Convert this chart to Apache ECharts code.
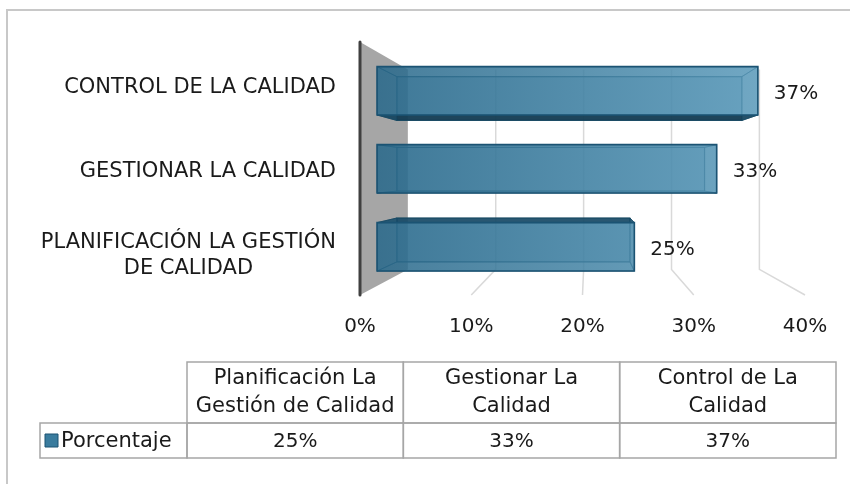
<!DOCTYPE html>
<html>
<head>
<meta charset="utf-8">
<script src="https://cdn.jsdelivr.net/npm/echarts@6/dist/echarts.min.js"></script>
<style>
  html, body { margin: 0; padding: 0; background: #ffffff; }
  #chart { width: 850px; height: 484px; }
</style>
</head>
<body>
<div id="chart"></div>
<script>
// Category axis, bottom to top
const categories = ['PLANIFICACIÓN LA GESTIÓN\nDE CALIDAD', 'GESTIONAR LA CALIDAD', 'CONTROL DE LA CALIDAD'];
// Data table column headers, left to right
const tableHeaders = ['Planificación La\nGestión de Calidad', 'Gestionar La\nCalidad', 'Control de La\nCalidad'];
const seriesName = 'Porcentaje';
const percentages = [25, 33, 37];
const axisTicks = [0, 10, 20, 30, 40];

const FONT = 'DejaVu Sans';
const FONT_SIZE = 20;
const FONT_SIZE_LARGE = 21;
const TEXT = '#1a1a1a';

// Perspective: every depth is the fraction of the way from the front plane to the vanishing point
const VANISH = [0.512, 0.518];       // vanishing point, as a fraction of the plot area
const DEPTH_BACK_WALL = 0.21;
const DEPTH_BAR_FRONT = 0.075;
const DEPTH_BAR_BACK = 0.162;
const BAR_THICKNESS = 0.62;          // share of the category band

function vanishingPoint(cs) {
  return [cs.x + VANISH[0] * cs.width, cs.y + VANISH[1] * cs.height];
}
function toward(p, v, d) {
  return [p[0] + d * (v[0] - p[0]), p[1] + d * (v[1] - p[1])];
}

// Side wall, back-wall grid lines and floor lines
function renderWalls(params, api) {
  const cs = params.coordSys;
  const v = vanishingPoint(cs);
  const top = cs.y, bottom = cs.y + cs.height;
  const x0 = api.coord([0, 0])[0];
  const children = [];
  const wallFrontTop = [x0, top], wallFrontBottom = [x0, bottom];
  children.push({
    type: 'polygon',
    shape: { points: [wallFrontTop, toward(wallFrontTop, v, DEPTH_BACK_WALL), toward(wallFrontBottom, v, DEPTH_BACK_WALL), wallFrontBottom] },
    style: { fill: '#a6a6a6' }
  });
  axisTicks.forEach(function (t) {
    if (t === axisTicks[0]) return;
    const x = api.coord([t, 0])[0];
    children.push({
      type: 'polyline',
      shape: { points: [toward([x, top], v, DEPTH_BACK_WALL), toward([x, bottom], v, DEPTH_BACK_WALL), [x, bottom]] },
      style: { stroke: '#d9d9d9', lineWidth: 1.5, fill: null }
    });
  });
  children.push({
    type: 'line',
    shape: { x1: x0, y1: top, x2: x0, y2: bottom },
    style: { stroke: '#404040', lineWidth: 3, lineCap: 'round' }
  });
  return { type: 'group', children: children };
}

// One 3D box per category
function renderBar(params, api) {
  const cs = params.coordSys;
  const v = vanishingPoint(cs);
  const cat = api.value(0), val = api.value(1);
  const end = api.coord([val, cat]);
  const start = api.coord([0, cat]);
  const h = api.size([0, 1])[1] * BAR_THICKNESS;
  const rect = [
    [start[0], end[1] - h / 2], [end[0], end[1] - h / 2],
    [end[0], end[1] + h / 2], [start[0], end[1] + h / 2]
  ];
  const F = rect.map(function (p) { return toward(p, v, DEPTH_BAR_FRONT); });
  const B = rect.map(function (p) { return toward(p, v, DEPTH_BAR_BACK); });
  const gradEnd = toward([api.coord([axisTicks[axisTicks.length - 1], cat])[0], 0], v, DEPTH_BAR_FRONT)[0];
  const edge = '#1b5373';
  // a top or bottom face shows outside the front face only when it turns toward the eye
  const hidden = 'rgba(30,90,122,0.3)';
  const topFill = B[0][1] < F[0][1] ? 'rgba(22,72,100,0.85)' : hidden;
  const bottomFill = B[3][1] > F[3][1] ? 'rgba(18,58,80,0.9)' : hidden;
  const children = [
    { type: 'polygon', shape: { points: B }, style: { fill: 'rgba(35,100,135,0.5)', stroke: 'rgba(22,72,98,0.7)', lineWidth: 1.2 } },
    { type: 'polygon', shape: { points: [F[0], F[1], B[1], B[0]] }, style: { fill: topFill, stroke: 'rgba(22,72,98,0.75)', lineWidth: 1 } },
    { type: 'polygon', shape: { points: [F[3], F[2], B[2], B[3]] }, style: { fill: bottomFill, stroke: 'rgba(22,72,98,0.75)', lineWidth: 1 } },
    { type: 'polygon', shape: { points: [F[0], B[0], B[3], F[3]] }, style: { fill: 'rgba(30,90,122,0.35)', stroke: 'rgba(22,72,98,0.6)', lineWidth: 1 } },
    { type: 'polygon', shape: { points: [F[1], B[1], B[2], F[2]] }, style: { fill: 'rgba(30,90,122,0.3)', stroke: 'rgba(22,72,98,0.6)', lineWidth: 1 } },
    {
      type: 'polygon', shape: { points: F },
      style: {
        fill: {
          type: 'linear', x: F[0][0], y: 0, x2: gradEnd, y2: 0, global: true,
          colorStops: [{ offset: 0, color: 'rgba(42,106,140,0.8)' }, { offset: 1, color: 'rgba(98,162,194,0.8)' }]
        },
        stroke: edge, lineWidth: 1.6
      }
    },
    {
      type: 'text',
      x: F[1][0] + 16, y: (F[1][1] + F[2][1]) / 2 + 3,
      style: { text: val + '%', fill: TEXT, fontFamily: FONT, fontSize: FONT_SIZE, align: 'left', verticalAlign: 'middle' }
    }
  ];
  return { type: 'group', children: children };
}

// Data table under the plot
const TABLE = { left: 40, keyRight: 187, right: 836, top: 362, mid: 423, bottom: 458 };
function tableGraphics() {
  const els = [];
  const colW = (TABLE.right - TABLE.keyRight) / tableHeaders.length;
  const border = { fill: null, stroke: '#a6a6a6', lineWidth: 1.5 };
  tableHeaders.forEach(function (hdr, i) {
    const x = TABLE.keyRight + i * colW;
    els.push({ type: 'rect', shape: { x: x, y: TABLE.top, width: colW, height: TABLE.mid - TABLE.top }, style: border, silent: true });
    els.push({ type: 'rect', shape: { x: x, y: TABLE.mid, width: colW, height: TABLE.bottom - TABLE.mid }, style: border, silent: true });
    els.push({
      type: 'text', x: x + colW / 2, y: (TABLE.top + TABLE.mid) / 2, silent: true,
      style: { text: hdr, fill: TEXT, fontFamily: FONT, fontSize: FONT_SIZE_LARGE, lineHeight: 28, align: 'center', verticalAlign: 'middle' }
    });
    els.push({
      type: 'text', x: x + colW / 2, y: (TABLE.mid + TABLE.bottom) / 2 + 1, silent: true,
      style: { text: percentages[i] + '%', fill: TEXT, fontFamily: FONT, fontSize: FONT_SIZE, align: 'center', verticalAlign: 'middle' }
    });
  });
  els.push({ type: 'rect', shape: { x: TABLE.left, y: TABLE.mid, width: TABLE.keyRight - TABLE.left, height: TABLE.bottom - TABLE.mid }, style: border, silent: true });
  els.push({ type: 'rect', shape: { x: TABLE.left + 5, y: (TABLE.mid + TABLE.bottom) / 2 - 6.5, width: 13, height: 13 }, style: { fill: '#3a7c9e', stroke: '#1b5373', lineWidth: 1 }, silent: true });
  els.push({
    type: 'text', x: TABLE.left + 21, y: (TABLE.mid + TABLE.bottom) / 2 + 1, silent: true,
    style: { text: seriesName, fill: TEXT, fontFamily: FONT, fontSize: FONT_SIZE_LARGE, align: 'left', verticalAlign: 'middle' }
  });
  // chart area frame
  els.unshift({ type: 'rect', shape: { x: 7, y: 10, width: 1000, height: 1000 }, style: { fill: null, stroke: '#c8c8c8', lineWidth: 2 }, silent: true, z: -10 });
  return els;
}

const chart = echarts.init(document.getElementById('chart'), null, { renderer: 'canvas' });
chart.setOption({
  animation: false,
  backgroundColor: '#ffffff',
  grid: { left: 360, top: 42, width: 445, height: 253 },
  xAxis: {
    type: 'value', min: 0, max: 40, interval: 10,
    axisLine: { show: false }, axisTick: { show: false }, splitLine: { show: false },
    axisLabel: { formatter: '{value}%', margin: 22, color: TEXT, fontFamily: FONT, fontSize: FONT_SIZE }
  },
  yAxis: {
    type: 'category', data: categories,
    axisLine: { show: false }, axisTick: { show: false }, splitLine: { show: false },
    axisLabel: {
      margin: 24, color: TEXT, fontFamily: FONT, fontSize: FONT_SIZE_LARGE, lineHeight: 26,
      padding: [6, 0, 0, 0],
      formatter: function (value) {
        if (value.indexOf('\n') < 0) return value;
        return value.split('\n').map(function (line) { return '{c|' + line + '}'; }).join('\n');
      },
      rich: { c: { align: 'center', color: TEXT, fontFamily: FONT, fontSize: FONT_SIZE_LARGE, lineHeight: 26 } }
    }
  },
  series: [
    {
      type: 'custom', name: 'walls', silent: true, z: 1,
      renderItem: renderWalls,
      data: [[0, 0]], encode: { x: 0, y: 1 }
    },
    {
      type: 'custom', name: seriesName, z: 2,
      renderItem: renderBar,
      data: percentages.map(function (p, i) { return [i, p]; }),
      encode: { x: 1, y: 0 }
    }
  ],
  graphic: tableGraphics()
});
</script>
</body>
</html>
